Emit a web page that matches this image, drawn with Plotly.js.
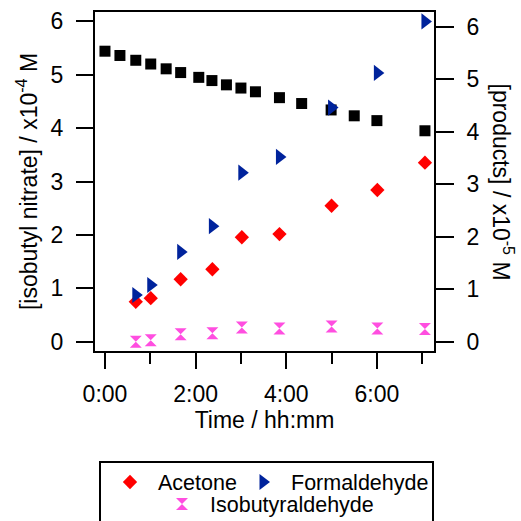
<!DOCTYPE html>
<html>
<head>
<meta charset="utf-8">
<script src="https://cdn.plot.ly/plotly-3.0.1.min.js"></script>
<style>html,body{margin:0;padding:0;background:#fff;}#chart{width:521px;height:521px;}</style>
</head>
<body>
<div id="chart"></div>
<script>
// ---- data (time in hours) ----
var nitrateTime = [0, 0.33, 0.68, 1.01, 1.35, 1.67, 2.07, 2.36, 2.68, 3.0, 3.32, 3.85, 4.34, 4.99, 5.5, 6.0, 7.06];
var isobutylNitrate = [5.44, 5.36, 5.27, 5.20, 5.11, 5.04, 4.95, 4.89, 4.81, 4.75, 4.68, 4.57, 4.46, 4.34, 4.23, 4.14, 3.95]; // x10^-4 M

var productTime = [0.68, 1.01, 1.67, 2.37, 3.02, 3.85, 5.0, 6.01, 7.06];
var acetone = [0.76, 0.83, 1.19, 1.38, 1.99, 2.05, 2.59, 2.89, 3.41];          // x10^-5 M
var formaldehyde = [0.89, 1.08, 1.71, 2.20, 3.22, 3.52, 4.46, 5.12, 6.10];     // x10^-5 M
var isobutyraldehyde = [0.00, 0.03, 0.14, 0.16, 0.27, 0.25, 0.29, 0.25, 0.24]; // x10^-5 M

var xMajorTicks = [0, 2, 4, 6];
var xTickLabels = ["0:00", "2:00", "4:00", "6:00"];
var xMinorTicks = [1, 3, 5, 7];
var yTicks = [0, 1, 2, 3, 4, 5, 6];

var FONT = "Liberation Sans, Arial, Helvetica, sans-serif";
var FS = 23;
var LFS = 21.5;

var traces = [
  {x: nitrateTime, y: isobutylNitrate, type: "scatter", mode: "markers", name: "Isobutyl nitrate",
   showlegend: false, yaxis: "y",
   marker: {symbol: "square", size: 11, color: "#000000", line: {width: 0}}},
  {x: productTime, y: acetone, type: "scatter", mode: "markers", name: "Acetone",
   yaxis: "y2", legend: "legend",
   marker: {symbol: "diamond", size: 11, color: "#ff0000", line: {width: 0}}},
  {x: productTime, y: formaldehyde, type: "scatter", mode: "markers", name: "Formaldehyde",
   yaxis: "y2", legend: "legend3",
   marker: {symbol: "triangle-right", size: 14, color: "#00239c", line: {width: 0}}},
  {x: productTime, y: isobutyraldehyde, type: "scatter", mode: "markers", name: "Isobutyraldehyde",
   yaxis: "y2", legend: "legend2",
   marker: {symbol: "hourglass", size: 12, color: "#ff4ee0", line: {width: 0}}}
];

function legendBox(px, py) {
  return {
    orientation: "h", xref: "container", yref: "container",
    x: px / 521, y: 1 - py / 521, xanchor: "left", yanchor: "middle",
    bgcolor: "rgba(0,0,0,0)", borderwidth: 0,
    font: {family: FONT, size: LFS, color: "#000"},
    itemsizing: "trace", itemwidth: 46
  };
}

var layout = {
  width: 521, height: 521,
  margin: {l: 95, r: 87, t: 12, b: 170, pad: 0},
  paper_bgcolor: "#ffffff", plot_bgcolor: "#ffffff",
  font: {family: FONT, size: FS, color: "#000000"},
  xaxis: {
    range: [-0.22, 7.26], showgrid: false, zeroline: false,
    showline: true, linewidth: 2, linecolor: "#000", mirror: true,
    tickmode: "array", tickvals: xMajorTicks, ticktext: xTickLabels,
    ticks: "outside", ticklen: 16, tickwidth: 2, tickcolor: "#000",
    minor: {tickmode: "array", tickvals: xMinorTicks, ticks: "outside", ticklen: 11, tickwidth: 2, tickcolor: "#000", showgrid: false},
    tickfont: {family: FONT, size: FS},
    ticklabelstandoff: 5,
    title: {text: "Time / hh:mm", font: {family: FONT, size: FS}, standoff: 5}
  },
  yaxis: {
    range: [-0.174, 6.174], showgrid: false, zeroline: false,
    showline: true, linewidth: 2, linecolor: "#000",
    tickmode: "array", tickvals: yTicks,
    ticks: "outside", ticklen: 17, tickwidth: 2, tickcolor: "#000",
    tickfont: {family: FONT, size: FS},
    ticklabelstandoff: 8,
    title: {text: "[isobutyl nitrate] / x10<sup>-4</sup> M", font: {family: FONT, size: FS}, standoff: 7}
  },
  yaxis2: {
    overlaying: "y", side: "right",
    range: [-0.177, 6.28], showgrid: false, zeroline: false,
    showline: true, linewidth: 2, linecolor: "#000",
    tickmode: "array", tickvals: yTicks,
    ticks: "outside", ticklen: 18, tickwidth: 2, tickcolor: "#000",
    tickfont: {family: FONT, size: FS},
    ticklabelstandoff: 8
  },
  legend: legendBox(102, 482),
  legend3: legendBox(235, 482),
  legend2: legendBox(154, 504),
  shapes: [
    {type: "rect", xref: "paper", yref: "paper",
     x0: (100 - 95) / 339, x1: (433 - 95) / 339,
     y0: (351 - 462) / 339, y1: (351 - 540) / 339,
     line: {color: "#000", width: 2}, fillcolor: "rgba(0,0,0,0)"}
  ],
  annotations: [
    {text: "[products] / x10<sup>-5</sup> M", xref: "paper", yref: "paper",
     x: (503 - 95) / 339, y: 0.5, xanchor: "center", yanchor: "middle",
     textangle: 90, showarrow: false, font: {family: FONT, size: FS, color: "#000"}}
  ],
  showlegend: true
};

Plotly.newPlot("chart", traces, layout, {displayModeBar: false, staticPlot: true});
</script>
</body>
</html>
